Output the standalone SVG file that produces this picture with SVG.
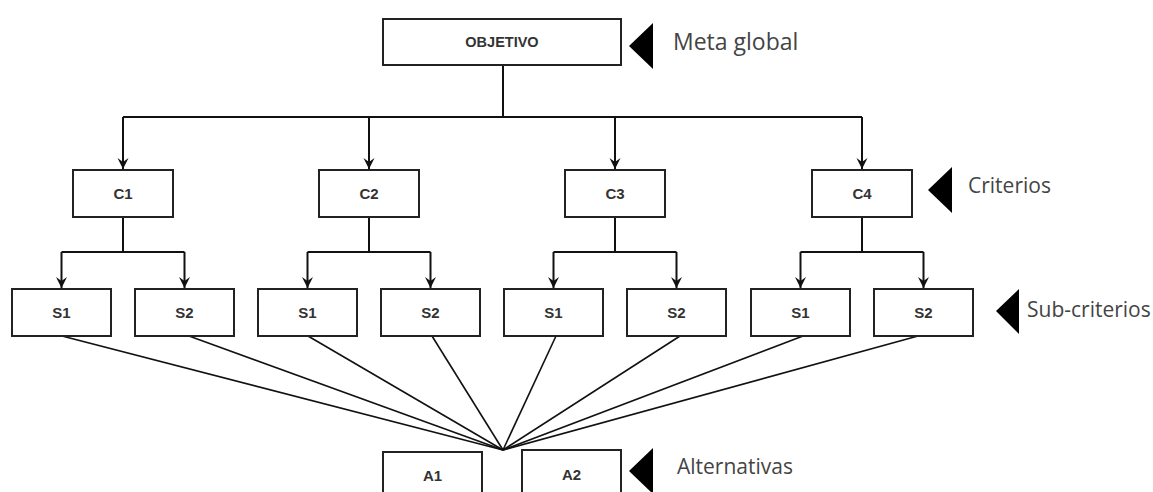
<svg xmlns="http://www.w3.org/2000/svg" width="1153" height="492" viewBox="0 0 1153 492">
<defs>
<style>
.box{fill:#fff;stroke:#222;stroke-width:2}
.bt{font-family:"Liberation Sans",Arial,sans-serif;font-weight:bold;font-size:15px;fill:#333;text-anchor:middle}
.lbl{font-family:"Open Sans","Noto Sans",sans-serif;font-size:21px;fill:#444}
.ln{fill:none;stroke:#111;stroke-width:2}
.fan{fill:none;stroke:#111;stroke-width:1.6}
.tri{fill:#000}
</style>
<marker id="ah" viewBox="-12 -6 13 12" refX="0" refY="0" markerWidth="13" markerHeight="12" markerUnits="userSpaceOnUse" orient="auto">
<path d="M0,0 L-11,-5.5 L-7,0 L-11,5.5 z" fill="#111"/>
</marker>
</defs>
<rect width="1153" height="492" fill="#fff"/>

<g id="connectors">
<path class="ln" d="M503,65 V117"/>
<path class="ln" d="M123,117 H862"/>
<path class="ln" d="M123,117 V169" marker-end="url(#ah)"/>
<path class="ln" d="M369,117 V169" marker-end="url(#ah)"/>
<path class="ln" d="M615,117 V169" marker-end="url(#ah)"/>
<path class="ln" d="M862,117 V169" marker-end="url(#ah)"/>

<path class="ln" d="M123,217 V252 M61.5,252 H184.5"/>
<path class="ln" d="M61.5,252 V288" marker-end="url(#ah)"/>
<path class="ln" d="M184.5,252 V288" marker-end="url(#ah)"/>
<path class="ln" d="M369,217 V252 M307.5,252 H430.5"/>
<path class="ln" d="M307.5,252 V288" marker-end="url(#ah)"/>
<path class="ln" d="M430.5,252 V288" marker-end="url(#ah)"/>
<path class="ln" d="M615,217 V252 M553.5,252 H676.5"/>
<path class="ln" d="M553.5,252 V288" marker-end="url(#ah)"/>
<path class="ln" d="M676.5,252 V288" marker-end="url(#ah)"/>
<path class="ln" d="M862,217 V252 M800.5,252 H923.5"/>
<path class="ln" d="M800.5,252 V288" marker-end="url(#ah)"/>
<path class="ln" d="M923.5,252 V288" marker-end="url(#ah)"/>

<path class="fan" d="M62,336 L503,450"/>
<path class="fan" d="M189,336 L503,450"/>
<path class="fan" d="M308,336 L503,450"/>
<path class="fan" d="M432,336 L503,450"/>
<path class="fan" d="M556,336 L503,450"/>
<path class="fan" d="M680,336 L503,450"/>
<path class="fan" d="M803,336 L503,450"/>
<path class="fan" d="M918,336 L503,450"/>
</g>

<g id="objetivo"><rect class="box" x="383" y="19" width="238" height="46"/><text class="bt" x="502" y="47" style="font-size:14.5px">OBJETIVO</text></g>

<g id="c1"><rect class="box" x="73" y="170" width="100" height="47"/><text class="bt" x="123" y="199">C1</text></g>
<g id="c2"><rect class="box" x="319" y="170" width="100" height="47"/><text class="bt" x="369" y="199">C2</text></g>
<g id="c3"><rect class="box" x="565" y="170" width="100" height="47"/><text class="bt" x="615" y="199">C3</text></g>
<g id="c4"><rect class="box" x="812" y="170" width="100" height="47"/><text class="bt" x="862" y="199">C4</text></g>

<g id="c1s1"><rect class="box" x="12" y="289" width="99" height="47"/><text class="bt" x="61.5" y="318">S1</text></g>
<g id="c1s2"><rect class="box" x="135" y="289" width="99" height="47"/><text class="bt" x="184.5" y="318">S2</text></g>
<g id="c2s1"><rect class="box" x="258" y="289" width="99" height="47"/><text class="bt" x="307.5" y="318">S1</text></g>
<g id="c2s2"><rect class="box" x="381" y="289" width="99" height="47"/><text class="bt" x="430.5" y="318">S2</text></g>
<g id="c3s1"><rect class="box" x="504" y="289" width="99" height="47"/><text class="bt" x="553.5" y="318">S1</text></g>
<g id="c3s2"><rect class="box" x="627" y="289" width="99" height="47"/><text class="bt" x="676.5" y="318">S2</text></g>
<g id="c4s1"><rect class="box" x="751" y="289" width="99" height="47"/><text class="bt" x="800.5" y="318">S1</text></g>
<g id="c4s2"><rect class="box" x="874" y="289" width="99" height="47"/><text class="bt" x="923.5" y="318">S2</text></g>

<g id="a1"><rect class="box" x="383" y="452" width="99" height="50"/><text class="bt" x="432.5" y="481">A1</text></g>
<g id="a2"><rect class="box" x="522" y="450" width="99" height="52"/><text class="bt" x="571.5" y="480">A2</text></g>

<g id="label-meta"><polygon class="tri" points="629,46 653,23 653,69"/><text class="lbl" x="673" y="50" style="font-size:23px">Meta global</text></g>
<g id="label-criterios"><polygon class="tri" points="928,190 952,167 952,213"/><text class="lbl" x="968" y="193">Criterios</text></g>
<g id="label-sub"><polygon class="tri" points="996,311 1019,289 1019,334"/><text class="lbl" x="1027" y="317">Sub-criterios</text></g>
<g id="label-alt"><polygon class="tri" points="629,471 653,448 653,494"/><text class="lbl" x="677" y="474">Alternativas</text></g>
</svg>
